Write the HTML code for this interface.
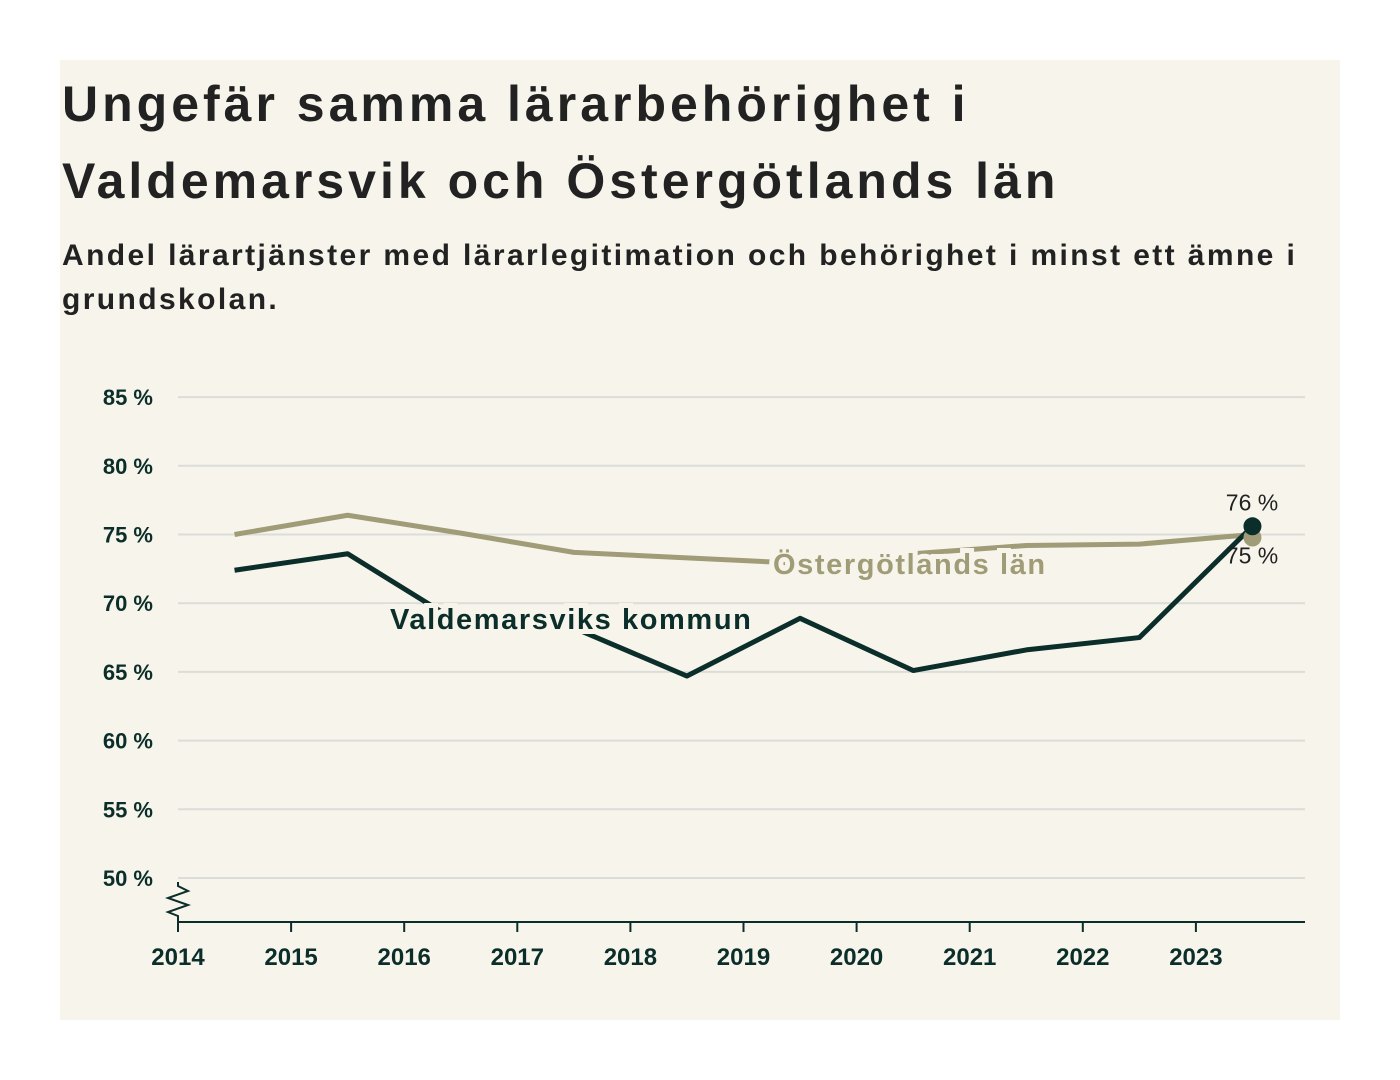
<!DOCTYPE html>
<html><head><meta charset="utf-8"><style>
body{margin:0;background:#fff;width:1400px;height:1080px;overflow:hidden;font-family:"Liberation Sans",sans-serif}
#card{position:absolute;left:60px;top:60px;width:1280px;height:960px;background:#f7f5eb}
h1{position:absolute;left:62px;top:66px;margin:0;font-size:50px;line-height:77px;font-weight:bold;color:#222;letter-spacing:4px;white-space:nowrap}
h2{position:absolute;left:62px;top:234px;margin:0;font-size:30px;line-height:44px;font-weight:bold;color:#222;width:1270px;letter-spacing:2.4px}
svg{position:absolute;left:0;top:0}
</style></head><body>
<div id="card"></div>
<h1>Ungefär samma lärarbehörighet i<br>Valdemarsvik och Östergötlands län</h1>
<h2>Andel lärartjänster med lärarlegitimation och behörighet i minst ett ämne i grundskolan.</h2>
<svg id="chart" width="1400" height="1080"></svg>
<script>
const years=[2014,2015,2016,2017,2018,2019,2020,2021,2022,2023];
const yTicks=[50,55,60,65,70,75,80,85];
const valdemarsvik=[72.4,73.6,68.5,68.2,64.7,68.9,65.1,66.6,67.5,75.6];
const ostergotland=[75.0,76.4,75.1,73.7,73.3,72.9,73.6,74.2,74.3,75.0];
const NS="http://www.w3.org/2000/svg";
const svg=document.getElementById('chart');
const x=v=>178+(v-2014)*113.1;
const y=v=>878-(v-50)*13.74;
function el(t,a,p){const e=document.createElementNS(NS,t);for(const k in a)e.setAttribute(k,a[k]);(p||svg).appendChild(e);return e;}
yTicks.forEach(t=>{
 const g=el('line',{x1:178,x2:1305,y1:y(t),y2:y(t),stroke:'#dcdcd8','stroke-width':2});
 
 
 const l=el('text',{x:153,y:y(t)+8,'text-anchor':'end','font-size':22,'font-weight':'bold',fill:'#0b2e2a'});
 l.textContent=t+' %';
 
 
});
const ax=el('line',{x1:178,x2:1305,y1:922,y2:922,stroke:'#0b2e2a','stroke-width':2});


const zz=el('polyline',{points:'178,882 178,886 188,891 168,898 188,905 168,912 178,916 178,922',fill:'none',stroke:'#0b2e2a','stroke-width':2});


years.forEach(yr=>{
 const t=el('line',{x1:x(yr),x2:x(yr),y1:922,y2:932,stroke:'#0b2e2a','stroke-width':2});
 
 
 const l=el('text',{x:x(yr),y:965,'text-anchor':'middle','font-size':24,'font-weight':'bold',fill:'#0b2e2a'});
 l.textContent=yr;
 
 
});
function line(vals,col,name){
 const p=el('polyline',{points:vals.map((v,i)=>x(years[i]+0.5)+','+y(v)).join(' '),fill:'none',stroke:col,'stroke-width':5,'stroke-linejoin':'round'});
 
 
}
line(ostergotland,'#a09c78','ostergotland-line');
line(valdemarsvik,'#0b2e2a','valdemarsvik-line');
function lab(t,xx,yy,col,name,size,anchor,bold){
 const e=el('text',{x:xx,y:yy,'font-size':size,fill:col,stroke:'#f7f5eb','stroke-width':10,'paint-order':'stroke','text-anchor':anchor||'start'});
 if(bold){e.setAttribute('font-weight','bold');e.setAttribute('letter-spacing','1.6');}
 e.textContent=t;
 
 
}
lab('Östergötlands län',773,574,'#a09c78','ostergotland-label',29,'start',true);
lab('Valdemarsviks kommun',390,629,'#0b2e2a','valdemarsvik-label',29,'start',true);
const e1=el('circle',{cx:x(2023.5),cy:y(ostergotland[9])+3,r:9,fill:'#a09c78'});


const e2=el('circle',{cx:x(2023.5),cy:y(valdemarsvik[9]),r:9,fill:'#0b2e2a'});


lab(Math.round(valdemarsvik[9])+' %',1252,y(valdemarsvik[9])-16,'#222','valdemarsvik-end-value',23,'middle');
const ev=el('text',{x:1252,y:y(ostergotland[9])+29,'font-size':23,fill:'#222','text-anchor':'middle'});
ev.textContent=Math.round(ostergotland[9])+' %';


</script>
</body></html>
